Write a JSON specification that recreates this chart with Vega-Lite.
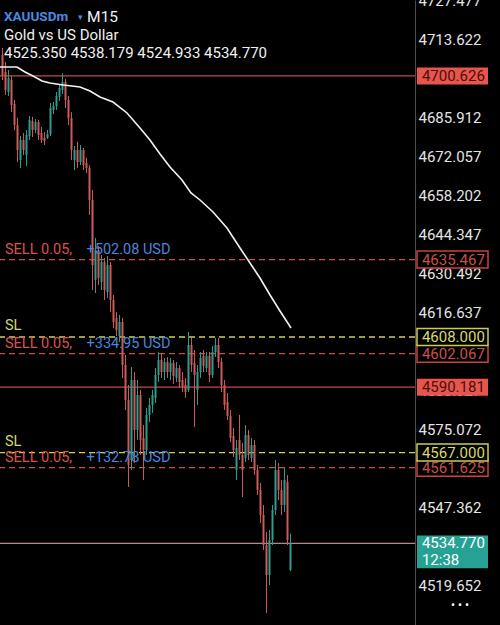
{
 "$schema": "https://vega.github.io/schema/vega-lite/v6.json",
 "width": 415,
 "height": 625,
 "autosize": {"type": "none"},
 "padding": {"left": 0, "top": 0, "right": 85, "bottom": 0},
 "background": "#000000",
 "config": {"view": {"stroke": null}, "font": "Roboto", "text": {"font": "Roboto"},
  "scale": {"continuousPadding": 0},
  "axis": {"labelColor": "#e4e4e4", "labelFontSize": 15, "labelFont": "Roboto", "domainColor": "#4a4a4a", "ticks": false, "grid": false, "labelPadding": 3}},
 "datasets": {
  "candles": [
   {"i":0,"o":4708.06,"h":4710.54,"l":4699.19,"c":4700.96},
   {"i":1,"o":4702.02,"h":4705.57,"l":4693.86,"c":4695.64},
   {"i":2,"o":4694.93,"h":4702.73,"l":4693.51,"c":4699.90},
   {"i":3,"o":4699.19,"h":4700.61,"l":4687.83,"c":4690.32},
   {"i":4,"o":4690.67,"h":4692.09,"l":4681.45,"c":4683.22},
   {"i":5,"o":4683.22,"h":4685.70,"l":4670.09,"c":4674.35},
   {"i":6,"o":4670.80,"h":4679.32,"l":4667.96,"c":4677.90},
   {"i":7,"o":4677.90,"h":4680.38,"l":4672.58,"c":4674.35},
   {"i":8,"o":4672.58,"h":4681.45,"l":4668.67,"c":4679.67},
   {"i":9,"o":4679.32,"h":4686.41,"l":4677.90,"c":4684.99},
   {"i":10,"o":4684.64,"h":4686.06,"l":4678.96,"c":4681.45},
   {"i":11,"o":4681.45,"h":4685.35,"l":4680.38,"c":4684.28},
   {"i":12,"o":4684.28,"h":4684.99,"l":4677.90,"c":4679.67},
   {"i":13,"o":4680.38,"h":4682.51,"l":4676.83,"c":4677.90},
   {"i":14,"o":4678.61,"h":4680.74,"l":4676.12,"c":4677.54},
   {"i":15,"o":4678.61,"h":4681.45,"l":4678.25,"c":4680.03},
   {"i":16,"o":4680.03,"h":4691.03,"l":4679.32,"c":4689.25},
   {"i":17,"o":4688.54,"h":4691.38,"l":4687.12,"c":4689.96},
   {"i":18,"o":4689.96,"h":4694.93,"l":4688.54,"c":4693.51},
   {"i":19,"o":4693.15,"h":4697.77,"l":4691.74,"c":4696.35},
   {"i":20,"o":4695.64,"h":4701.67,"l":4694.22,"c":4698.48},
   {"i":21,"o":4698.48,"h":4699.54,"l":4689.25,"c":4692.09},
   {"i":22,"o":4692.09,"h":4693.51,"l":4683.22,"c":4685.70},
   {"i":23,"o":4685.70,"h":4687.83,"l":4670.80,"c":4674.35},
   {"i":24,"o":4670.80,"h":4675.77,"l":4667.25,"c":4674.35},
   {"i":25,"o":4674.35,"h":4677.19,"l":4667.96,"c":4670.09},
   {"i":26,"o":4670.09,"h":4676.12,"l":4669.03,"c":4674.35},
   {"i":27,"o":4674.35,"h":4675.06,"l":4667.25,"c":4669.03},
   {"i":28,"o":4669.74,"h":4671.51,"l":4666.19,"c":4667.96},
   {"i":29,"o":4667.96,"h":4669.03,"l":4651.29,"c":4656.61},
   {"i":30,"o":4656.61,"h":4660.16,"l":4624.68,"c":4633.55},
   {"i":31,"o":4628.23,"h":4643.13,"l":4623.61,"c":4638.87},
   {"i":32,"o":4638.87,"h":4640.29,"l":4626.45,"c":4628.94},
   {"i":33,"o":4627.52,"h":4637.10,"l":4624.68,"c":4634.61},
   {"i":34,"o":4634.61,"h":4636.03,"l":4621.13,"c":4624.68},
   {"i":35,"o":4623.97,"h":4636.74,"l":4621.84,"c":4633.55},
   {"i":36,"o":4633.55,"h":4634.61,"l":4616.87,"c":4621.13},
   {"i":37,"o":4621.13,"h":4622.90,"l":4611.20,"c":4613.32},
   {"i":38,"o":4614.74,"h":4616.87,"l":4608.36,"c":4610.49},
   {"i":39,"o":4608.36,"h":4615.81,"l":4606.23,"c":4613.32},
   {"i":40,"o":4613.32,"h":4614.74,"l":4593.46,"c":4598.07},
   {"i":41,"o":4598.07,"h":4601.62,"l":4582.10,"c":4585.65},
   {"i":42,"o":4585.65,"h":4590.97,"l":4554.78,"c":4562.59},
   {"i":43,"o":4564.36,"h":4597.36,"l":4560.81,"c":4592.75},
   {"i":44,"o":4592.75,"h":4595.58,"l":4563.30,"c":4575.01},
   {"i":45,"o":4575.01,"h":4592.75,"l":4571.46,"c":4587.42},
   {"i":46,"o":4587.42,"h":4589.20,"l":4566.14,"c":4571.46},
   {"i":47,"o":4572.17,"h":4576.78,"l":4557.27,"c":4567.91},
   {"i":48,"o":4567.91,"h":4582.81,"l":4566.14,"c":4580.33},
   {"i":49,"o":4580.33,"h":4586.36,"l":4577.84,"c":4583.88},
   {"i":50,"o":4583.88,"h":4589.20,"l":4581.04,"c":4587.42},
   {"i":51,"o":4586.36,"h":4597.00,"l":4584.59,"c":4594.52},
   {"i":52,"o":4594.52,"h":4602.68,"l":4592.04,"c":4599.84},
   {"i":53,"o":4599.84,"h":4602.33,"l":4593.46,"c":4595.58},
   {"i":54,"o":4595.58,"h":4600.55,"l":4592.75,"c":4599.13},
   {"i":55,"o":4599.13,"h":4600.91,"l":4593.46,"c":4595.58},
   {"i":56,"o":4595.58,"h":4600.55,"l":4592.75,"c":4598.78},
   {"i":57,"o":4598.78,"h":4599.84,"l":4591.33,"c":4594.17},
   {"i":58,"o":4593.46,"h":4599.13,"l":4592.04,"c":4597.00},
   {"i":59,"o":4597.00,"h":4598.07,"l":4589.91,"c":4592.04},
   {"i":60,"o":4592.75,"h":4595.58,"l":4588.49,"c":4590.26},
   {"i":61,"o":4590.97,"h":4593.46,"l":4586.36,"c":4588.49},
   {"i":62,"o":4589.20,"h":4609.78,"l":4588.49,"c":4605.16},
   {"i":63,"o":4605.16,"h":4607.65,"l":4595.58,"c":4598.07},
   {"i":64,"o":4598.78,"h":4603.39,"l":4576.07,"c":4594.52},
   {"i":65,"o":4589.20,"h":4598.07,"l":4583.88,"c":4595.58},
   {"i":66,"o":4595.58,"h":4602.68,"l":4593.46,"c":4600.55},
   {"i":67,"o":4601.26,"h":4603.39,"l":4595.58,"c":4597.71},
   {"i":68,"o":4597.00,"h":4602.68,"l":4595.58,"c":4601.26},
   {"i":69,"o":4601.26,"h":4602.68,"l":4592.04,"c":4594.52},
   {"i":70,"o":4594.52,"h":4604.81,"l":4593.46,"c":4602.68},
   {"i":71,"o":4602.68,"h":4607.65,"l":4600.91,"c":4605.16},
   {"i":72,"o":4605.16,"h":4607.65,"l":4597.00,"c":4599.13},
   {"i":73,"o":4599.13,"h":4600.55,"l":4588.49,"c":4590.97},
   {"i":74,"o":4590.97,"h":4592.75,"l":4582.10,"c":4583.88},
   {"i":75,"o":4584.94,"h":4588.13,"l":4578.55,"c":4579.97},
   {"i":76,"o":4579.97,"h":4582.10,"l":4570.75,"c":4572.17},
   {"i":77,"o":4572.88,"h":4575.72,"l":4565.43,"c":4567.91},
   {"i":78,"o":4560.81,"h":4571.46,"l":4557.27,"c":4568.62},
   {"i":79,"o":4571.46,"h":4580.33,"l":4564.36,"c":4566.14},
   {"i":80,"o":4566.14,"h":4570.39,"l":4551.23,"c":4560.81},
   {"i":81,"o":4565.07,"h":4576.78,"l":4563.65,"c":4573.23},
   {"i":82,"o":4573.23,"h":4575.01,"l":4564.36,"c":4566.14},
   {"i":83,"o":4565.07,"h":4572.17,"l":4563.65,"c":4569.68},
   {"i":84,"o":4569.68,"h":4571.46,"l":4559.04,"c":4560.81},
   {"i":85,"o":4560.81,"h":4562.59,"l":4551.94,"c":4553.72},
   {"i":86,"o":4553.72,"h":4556.20,"l":4542.01,"c":4544.85},
   {"i":87,"o":4544.85,"h":4548.40,"l":4532.43,"c":4534.20},
   {"i":88,"o":4534.20,"h":4538.82,"l":4510.08,"c":4523.56},
   {"i":89,"o":4523.56,"h":4539.53,"l":4520.01,"c":4535.98},
   {"i":90,"o":4535.98,"h":4548.40,"l":4534.20,"c":4546.62},
   {"i":91,"o":4546.62,"h":4564.36,"l":4544.85,"c":4560.81},
   {"i":92,"o":4560.81,"h":4563.30,"l":4550.17,"c":4553.72},
   {"i":93,"o":4553.72,"h":4557.27,"l":4544.85,"c":4548.40},
   {"i":94,"o":4548.40,"h":4561.52,"l":4545.91,"c":4557.27},
   {"i":95,"o":4556.56,"h":4559.04,"l":4534.20,"c":4535.98},
   {"i":96,"o":4525.35,"h":4538.179,"l":4524.933,"c":4534.77}
  ],
  "ma": [
   {"i":-0.83,"v":4703.80},{"i":4.83,"v":4703.80},{"i":7.5,"v":4702.02},{"i":10.17,"v":4700.61},
   {"i":13.17,"v":4698.83},{"i":15.83,"v":4698.12},{"i":20.17,"v":4697.41},{"i":23.17,"v":4697.06},
   {"i":25.83,"v":4696.70},{"i":29.17,"v":4695.28},{"i":32.5,"v":4693.15},{"i":36.83,"v":4691.38},
   {"i":41.5,"v":4687.48},{"i":45.83,"v":4682.16},{"i":49.17,"v":4677.90},{"i":52.5,"v":4672.93},
   {"i":55.83,"v":4668.32},{"i":59.83,"v":4663.70},{"i":62.83,"v":4659.09},{"i":65.83,"v":4656.61},
   {"i":70.17,"v":4652.35},{"i":74.83,"v":4646.67},{"i":79.17,"v":4639.58},{"i":82.5,"v":4634.26},
   {"i":85.83,"v":4628.94},{"i":89.17,"v":4622.90},{"i":92.5,"v":4617.23},{"i":96.17,"v":4611.20}
  ],
  "lvl": [{"price": 4700.626}, {"price": 4590.181}],
  "sell": [
   {"price": 4635.467, "pnl": "+502.08 USD"},
   {"price": 4602.067, "pnl": "+334.95 USD"},
   {"price": 4561.625, "pnl": "+132.78 USD"}
  ],
  "sl": [{"price": 4608.0}, {"price": 4567.0}],
  "bid": [{"price": 4534.77, "time": "12:38"}]
 },
 "layer": [
  {
   "data": {"name": "lvl"},
   "mark": {"type": "rule", "color": "#c24b45", "strokeWidth": 1.2},
   "encoding": {
    "y": {"field": "price", "type": "quantitative",
     "scale": {"domain": [4505.81, 4727.57], "nice": false, "zero": false},
     "axis": {"orient": "right", "values": [4727.477,4713.622,4699.767,4685.912,4672.057,4658.202,4644.347,4630.492,4616.637,4602.782,4588.927,4575.072,4561.217,4547.362,4533.507,4519.652], "format": ".3f", "title": null}}
   }
  },
  {
   "data": {"name": "sell"},
   "mark": {"type": "rule", "color": "#c94f4a", "strokeWidth": 1.3, "strokeDash": [6, 4]},
   "encoding": {"y": {"field": "price", "type": "quantitative", "scale": {"domain": [4505.81, 4727.57], "nice": false, "zero": false},
     "axis": {"orient": "right", "values": [4727.477,4713.622,4699.767,4685.912,4672.057,4658.202,4644.347,4630.492,4616.637,4602.782,4588.927,4575.072,4561.217,4547.362,4533.507,4519.652], "format": ".3f", "title": null}}}
  },
  {
   "data": {"name": "sl"},
   "mark": {"type": "rule", "color": "#cfcf58", "strokeWidth": 1.3, "strokeDash": [6, 4]},
   "encoding": {"y": {"field": "price", "type": "quantitative", "scale": {"domain": [4505.81, 4727.57], "nice": false, "zero": false},
     "axis": {"orient": "right", "values": [4727.477,4713.622,4699.767,4685.912,4672.057,4658.202,4644.347,4630.492,4616.637,4602.782,4588.927,4575.072,4561.217,4547.362,4533.507,4519.652], "format": ".3f", "title": null}}}
  },
  {
   "data": {"name": "bid"},
   "mark": {"type": "rule", "color": "#b08c8c", "strokeWidth": 1.2},
   "encoding": {"y": {"field": "price", "type": "quantitative", "scale": {"domain": [4505.81, 4727.57], "nice": false, "zero": false},
     "axis": {"orient": "right", "values": [4727.477,4713.622,4699.767,4685.912,4672.057,4658.202,4644.347,4630.492,4616.637,4602.782,4588.927,4575.072,4561.217,4547.362,4533.507,4519.652], "format": ".3f", "title": null}}}
  },
  {
   "data": {"name": "candles"},
   "mark": {"type": "rule", "strokeWidth": 1},
   "encoding": {
    "x": {"field": "i", "type": "quantitative", "scale": {"domain": [-0.833, 137.5], "nice": false, "zero": false, "padding": 0}, "axis": null},
    "y": {"field": "l", "type": "quantitative", "scale": {"domain": [4505.81, 4727.57], "nice": false, "zero": false},
     "axis": {"orient": "right", "values": [4727.477,4713.622,4699.767,4685.912,4672.057,4658.202,4644.347,4630.492,4616.637,4602.782,4588.927,4575.072,4561.217,4547.362,4533.507,4519.652], "format": ".3f", "title": null}},
    "y2": {"field": "h"},
    "color": {"condition": {"test": "datum.c >= datum.o", "value": "#2f9d8e"}, "value": "#cd5b58"}
   }
  },
  {
   "data": {"name": "candles"},
   "mark": {"type": "bar", "width": 2},
   "encoding": {
    "x": {"field": "i", "type": "quantitative", "scale": {"domain": [-0.833, 137.5], "nice": false, "zero": false, "padding": 0}, "axis": null},
    "y": {"field": "o", "type": "quantitative", "scale": {"domain": [4505.81, 4727.57], "nice": false, "zero": false},
     "axis": {"orient": "right", "values": [4727.477,4713.622,4699.767,4685.912,4672.057,4658.202,4644.347,4630.492,4616.637,4602.782,4588.927,4575.072,4561.217,4547.362,4533.507,4519.652], "format": ".3f", "title": null}},
    "y2": {"field": "c"},
    "color": {"condition": {"test": "datum.c >= datum.o", "value": "#2f9d8e"}, "value": "#cd5b58"}
   }
  },
  {
   "data": {"name": "ma"},
   "mark": {"type": "line", "color": "#f2f2f2", "strokeWidth": 1.6},
   "encoding": {
    "x": {"field": "i", "type": "quantitative", "scale": {"domain": [-0.833, 137.5], "nice": false, "zero": false, "padding": 0}, "axis": null},
    "y": {"field": "v", "type": "quantitative", "scale": {"domain": [4505.81, 4727.57], "nice": false, "zero": false},
     "axis": {"orient": "right", "values": [4727.477,4713.622,4699.767,4685.912,4672.057,4658.202,4644.347,4630.492,4616.637,4602.782,4588.927,4575.072,4561.217,4547.362,4533.507,4519.652], "format": ".3f", "title": null}}
   }
  },
  {
   "data": {"name": "sell"},
   "mark": {"type": "text", "align": "left", "baseline": "middle", "dy": -10, "fontSize": 14.5, "color": "#d9544f", "text": "SELL 0.05,"},
   "encoding": {
    "x": {"datum": 0.83, "type": "quantitative", "scale": {"domain": [-0.833, 137.5], "nice": false, "zero": false, "padding": 0}, "axis": null},
    "y": {"field": "price", "type": "quantitative", "scale": {"domain": [4505.81, 4727.57], "nice": false, "zero": false},
     "axis": {"orient": "right", "values": [4727.477,4713.622,4699.767,4685.912,4672.057,4658.202,4644.347,4630.492,4616.637,4602.782,4588.927,4575.072,4561.217,4547.362,4533.507,4519.652], "format": ".3f", "title": null}}
   }
  },
  {
   "data": {"name": "sell"},
   "mark": {"type": "text", "align": "left", "baseline": "middle", "dy": -10, "fontSize": 14.5, "color": "#4a86dc"},
   "encoding": {
    "x": {"datum": 28.0, "type": "quantitative", "scale": {"domain": [-0.833, 137.5], "nice": false, "zero": false, "padding": 0}, "axis": null},
    "y": {"field": "price", "type": "quantitative", "scale": {"domain": [4505.81, 4727.57], "nice": false, "zero": false},
     "axis": {"orient": "right", "values": [4727.477,4713.622,4699.767,4685.912,4672.057,4658.202,4644.347,4630.492,4616.637,4602.782,4588.927,4575.072,4561.217,4547.362,4533.507,4519.652], "format": ".3f", "title": null}},
    "text": {"field": "pnl"}
   }
  },
  {
   "data": {"name": "sl"},
   "mark": {"type": "text", "align": "left", "baseline": "middle", "dy": -11, "fontSize": 14.5, "color": "#d6d66a", "text": "SL"},
   "encoding": {
    "x": {"datum": 0.83, "type": "quantitative", "scale": {"domain": [-0.833, 137.5], "nice": false, "zero": false, "padding": 0}, "axis": null},
    "y": {"field": "price", "type": "quantitative", "scale": {"domain": [4505.81, 4727.57], "nice": false, "zero": false},
     "axis": {"orient": "right", "values": [4727.477,4713.622,4699.767,4685.912,4672.057,4658.202,4644.347,4630.492,4616.637,4602.782,4588.927,4575.072,4561.217,4547.362,4533.507,4519.652], "format": ".3f", "title": null}}
   }
  },
  {
   "data": {"name": "lvl"},
   "mark": {"type": "point", "shape": "M-1,-0.24L1,-0.24L1,0.24L-1,0.24Z", "size": 5041, "filled": true, "fill": "#e8554d", "strokeWidth": 0, "opacity": 1},
   "encoding": {
    "x": {"datum": 150, "type": "quantitative", "scale": {"domain": [-0.833, 137.5], "nice": false, "zero": false, "padding": 0}, "axis": null},
    "y": {"field": "price", "type": "quantitative", "scale": {"domain": [4505.81, 4727.57], "nice": false, "zero": false},
     "axis": {"orient": "right", "values": [4727.477,4713.622,4699.767,4685.912,4672.057,4658.202,4644.347,4630.492,4616.637,4602.782,4588.927,4575.072,4561.217,4547.362,4533.507,4519.652], "format": ".3f", "title": null}}
   }
  },
  {
   "data": {"name": "sell"},
   "mark": {"type": "point", "shape": "M-1,-0.24L1,-0.24L1,0.24L-1,0.24Z", "size": 5041, "filled": false, "fill": "#000000", "fillOpacity": 1, "stroke": "#c8443f", "strokeWidth": 1.5, "opacity": 1},
   "encoding": {
    "x": {"datum": 150, "type": "quantitative", "scale": {"domain": [-0.833, 137.5], "nice": false, "zero": false, "padding": 0}, "axis": null},
    "y": {"field": "price", "type": "quantitative", "scale": {"domain": [4505.81, 4727.57], "nice": false, "zero": false},
     "axis": {"orient": "right", "values": [4727.477,4713.622,4699.767,4685.912,4672.057,4658.202,4644.347,4630.492,4616.637,4602.782,4588.927,4575.072,4561.217,4547.362,4533.507,4519.652], "format": ".3f", "title": null}}
   }
  },
  {
   "data": {"name": "sl"},
   "mark": {"type": "point", "shape": "M-1,-0.24L1,-0.24L1,0.24L-1,0.24Z", "size": 5041, "filled": false, "fill": "#000000", "fillOpacity": 1, "stroke": "#cccc55", "strokeWidth": 1.5, "opacity": 1},
   "encoding": {
    "x": {"datum": 150, "type": "quantitative", "scale": {"domain": [-0.833, 137.5], "nice": false, "zero": false, "padding": 0}, "axis": null},
    "y": {"field": "price", "type": "quantitative", "scale": {"domain": [4505.81, 4727.57], "nice": false, "zero": false},
     "axis": {"orient": "right", "values": [4727.477,4713.622,4699.767,4685.912,4672.057,4658.202,4644.347,4630.492,4616.637,4602.782,4588.927,4575.072,4561.217,4547.362,4533.507,4519.652], "format": ".3f", "title": null}}
   }
  },
  {
   "data": {"name": "bid"},
   "mark": {"type": "point", "shape": "M-1,-0.225L1,-0.225L1,0.704L-1,0.704Z", "size": 5041, "filled": true, "fill": "#26a295", "strokeWidth": 0, "opacity": 1},
   "encoding": {
    "x": {"datum": 150, "type": "quantitative", "scale": {"domain": [-0.833, 137.5], "nice": false, "zero": false, "padding": 0}, "axis": null},
    "y": {"field": "price", "type": "quantitative", "scale": {"domain": [4505.81, 4727.57], "nice": false, "zero": false},
     "axis": {"orient": "right", "values": [4727.477,4713.622,4699.767,4685.912,4672.057,4658.202,4644.347,4630.492,4616.637,4602.782,4588.927,4575.072,4561.217,4547.362,4533.507,4519.652], "format": ".3f", "title": null}}
   }
  },
  {
   "data": {"name": "lvl"},
   "mark": {"type": "text", "align": "left", "baseline": "middle", "fontSize": 15, "color": "#4a0f0c"},
   "encoding": {
    "x": {"datum": 139.8, "type": "quantitative", "scale": {"domain": [-0.833, 137.5], "nice": false, "zero": false, "padding": 0}, "axis": null},
    "y": {"field": "price", "type": "quantitative", "scale": {"domain": [4505.81, 4727.57], "nice": false, "zero": false},
     "axis": {"orient": "right", "values": [4727.477,4713.622,4699.767,4685.912,4672.057,4658.202,4644.347,4630.492,4616.637,4602.782,4588.927,4575.072,4561.217,4547.362,4533.507,4519.652], "format": ".3f", "title": null}},
    "text": {"field": "price", "type": "quantitative", "format": ".3f"}
   }
  },
  {
   "data": {"name": "sell"},
   "mark": {"type": "text", "align": "left", "baseline": "middle", "fontSize": 15, "color": "#c9504a"},
   "encoding": {
    "x": {"datum": 139.8, "type": "quantitative", "scale": {"domain": [-0.833, 137.5], "nice": false, "zero": false, "padding": 0}, "axis": null},
    "y": {"field": "price", "type": "quantitative", "scale": {"domain": [4505.81, 4727.57], "nice": false, "zero": false},
     "axis": {"orient": "right", "values": [4727.477,4713.622,4699.767,4685.912,4672.057,4658.202,4644.347,4630.492,4616.637,4602.782,4588.927,4575.072,4561.217,4547.362,4533.507,4519.652], "format": ".3f", "title": null}},
    "text": {"field": "price", "type": "quantitative", "format": ".3f"}
   }
  },
  {
   "data": {"name": "sl"},
   "mark": {"type": "text", "align": "left", "baseline": "middle", "fontSize": 15, "color": "#d8d86c"},
   "encoding": {
    "x": {"datum": 139.8, "type": "quantitative", "scale": {"domain": [-0.833, 137.5], "nice": false, "zero": false, "padding": 0}, "axis": null},
    "y": {"field": "price", "type": "quantitative", "scale": {"domain": [4505.81, 4727.57], "nice": false, "zero": false},
     "axis": {"orient": "right", "values": [4727.477,4713.622,4699.767,4685.912,4672.057,4658.202,4644.347,4630.492,4616.637,4602.782,4588.927,4575.072,4561.217,4547.362,4533.507,4519.652], "format": ".3f", "title": null}},
    "text": {"field": "price", "type": "quantitative", "format": ".3f"}
   }
  },
  {
   "data": {"name": "bid"},
   "mark": {"type": "text", "align": "left", "baseline": "middle", "fontSize": 15, "color": "#ffffff"},
   "encoding": {
    "x": {"datum": 139.8, "type": "quantitative", "scale": {"domain": [-0.833, 137.5], "nice": false, "zero": false, "padding": 0}, "axis": null},
    "y": {"field": "price", "type": "quantitative", "scale": {"domain": [4505.81, 4727.57], "nice": false, "zero": false},
     "axis": {"orient": "right", "values": [4727.477,4713.622,4699.767,4685.912,4672.057,4658.202,4644.347,4630.492,4616.637,4602.782,4588.927,4575.072,4561.217,4547.362,4533.507,4519.652], "format": ".3f", "title": null}},
    "text": {"field": "price", "type": "quantitative", "format": ".3f"}
   }
  },
  {
   "data": {"name": "bid"},
   "mark": {"type": "text", "align": "left", "baseline": "middle", "dy": 17, "fontSize": 15, "color": "#ffffff"},
   "encoding": {
    "x": {"datum": 139.8, "type": "quantitative", "scale": {"domain": [-0.833, 137.5], "nice": false, "zero": false, "padding": 0}, "axis": null},
    "y": {"field": "price", "type": "quantitative", "scale": {"domain": [4505.81, 4727.57], "nice": false, "zero": false},
     "axis": {"orient": "right", "values": [4727.477,4713.622,4699.767,4685.912,4672.057,4658.202,4644.347,4630.492,4616.637,4602.782,4588.927,4575.072,4561.217,4547.362,4533.507,4519.652], "format": ".3f", "title": null}},
    "text": {"field": "time"}
   }
  },
  {
   "data": {"values": [{"t": "XAUUSDm"}]},
   "mark": {"type": "text", "align": "left", "baseline": "middle", "fontSize": 13.5, "fontWeight": "bold", "color": "#4b8ae0"},
   "encoding": {
    "x": {"datum": 0.5, "type": "quantitative", "scale": {"domain": [-0.833, 137.5], "nice": false, "zero": false, "padding": 0}, "axis": null},
    "y": {"datum": 4721.54, "type": "quantitative", "scale": {"domain": [4505.81, 4727.57], "nice": false, "zero": false},
     "axis": {"orient": "right", "values": [4727.477,4713.622,4699.767,4685.912,4672.057,4658.202,4644.347,4630.492,4616.637,4602.782,4588.927,4575.072,4561.217,4547.362,4533.507,4519.652], "format": ".3f", "title": null}},
    "text": {"field": "t"}
   }
  },
  {
   "data": {"values": [{"t": "▾"}]},
   "mark": {"type": "text", "align": "center", "baseline": "middle", "fontSize": 9, "color": "#4b8ae0"},
   "encoding": {
    "x": {"datum": 25.9, "type": "quantitative", "scale": {"domain": [-0.833, 137.5], "nice": false, "zero": false, "padding": 0}, "axis": null},
    "y": {"datum": 4721.54, "type": "quantitative", "scale": {"domain": [4505.81, 4727.57], "nice": false, "zero": false},
     "axis": {"orient": "right", "values": [4727.477,4713.622,4699.767,4685.912,4672.057,4658.202,4644.347,4630.492,4616.637,4602.782,4588.927,4575.072,4561.217,4547.362,4533.507,4519.652], "format": ".3f", "title": null}},
    "text": {"field": "t"}
   }
  },
  {
   "data": {"values": [{"t": "M15"}]},
   "mark": {"type": "text", "align": "left", "baseline": "middle", "fontSize": 15.5, "color": "#f0f0f0"},
   "encoding": {
    "x": {"datum": 28.2, "type": "quantitative", "scale": {"domain": [-0.833, 137.5], "nice": false, "zero": false, "padding": 0}, "axis": null},
    "y": {"datum": 4721.54, "type": "quantitative", "scale": {"domain": [4505.81, 4727.57], "nice": false, "zero": false},
     "axis": {"orient": "right", "values": [4727.477,4713.622,4699.767,4685.912,4672.057,4658.202,4644.347,4630.492,4616.637,4602.782,4588.927,4575.072,4561.217,4547.362,4533.507,4519.652], "format": ".3f", "title": null}},
    "text": {"field": "t"}
   }
  },
  {
   "data": {"values": [{"t": "Gold vs US Dollar"}]},
   "mark": {"type": "text", "align": "left", "baseline": "middle", "fontSize": 15, "color": "#f0f0f0"},
   "encoding": {
    "x": {"datum": 0.5, "type": "quantitative", "scale": {"domain": [-0.833, 137.5], "nice": false, "zero": false, "padding": 0}, "axis": null},
    "y": {"datum": 4715.15, "type": "quantitative", "scale": {"domain": [4505.81, 4727.57], "nice": false, "zero": false},
     "axis": {"orient": "right", "values": [4727.477,4713.622,4699.767,4685.912,4672.057,4658.202,4644.347,4630.492,4616.637,4602.782,4588.927,4575.072,4561.217,4547.362,4533.507,4519.652], "format": ".3f", "title": null}},
    "text": {"field": "t"}
   }
  },
  {
   "data": {"values": [{"t": "4525.350 4538.179 4524.933 4534.770"}]},
   "mark": {"type": "text", "align": "left", "baseline": "middle", "fontSize": 15, "color": "#f0f0f0"},
   "encoding": {
    "x": {"datum": 0.5, "type": "quantitative", "scale": {"domain": [-0.833, 137.5], "nice": false, "zero": false, "padding": 0}, "axis": null},
    "y": {"datum": 4708.76, "type": "quantitative", "scale": {"domain": [4505.81, 4727.57], "nice": false, "zero": false},
     "axis": {"orient": "right", "values": [4727.477,4713.622,4699.767,4685.912,4672.057,4658.202,4644.347,4630.492,4616.637,4602.782,4588.927,4575.072,4561.217,4547.362,4533.507,4519.652], "format": ".3f", "title": null}},
    "text": {"field": "t"}
   }
  },
  {
   "data": {"values": [{"t": "• • •"}]},
   "mark": {"type": "text", "align": "center", "baseline": "middle", "fontSize": 12, "color": "#ffffff"},
   "encoding": {
    "x": {"datum": 152.5, "type": "quantitative", "scale": {"domain": [-0.833, 137.5], "nice": false, "zero": false, "padding": 0}, "axis": null},
    "y": {"datum": 4512.92, "type": "quantitative", "scale": {"domain": [4505.81, 4727.57], "nice": false, "zero": false},
     "axis": {"orient": "right", "values": [4727.477,4713.622,4699.767,4685.912,4672.057,4658.202,4644.347,4630.492,4616.637,4602.782,4588.927,4575.072,4561.217,4547.362,4533.507,4519.652], "format": ".3f", "title": null}},
    "text": {"field": "t"}
   }
  }
 ]
}
